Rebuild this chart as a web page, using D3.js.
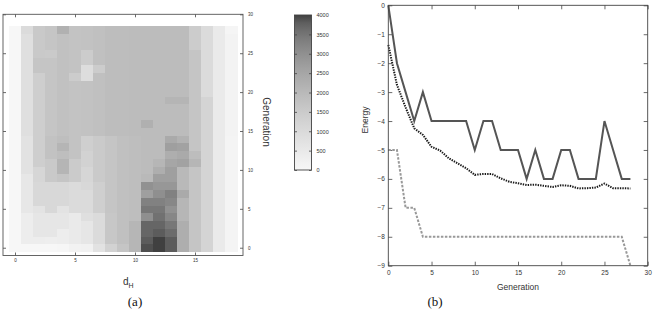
<!DOCTYPE html>
<html><head><meta charset="utf-8">
<script src="https://cdn.jsdelivr.net/npm/d3@7"></script>
<style>
body{margin:0;background:#fff}
svg{display:block;font-family:"Liberation Sans",Arial,sans-serif}
</style>
</head><body>
<svg id="c" width="658" height="312"></svg>
<script>
// ---------- data ----------
const dH = [0,1,2,3,4,5,6,7,8,9,10,11,12,13,14,15,16,17,18];
const generations = [0,1,2,3,4,5,6,7,8,9,10,11,12,13,14,15,16,17,18,19,20,21,22,23,24,25,26,27,28];
// heat counts: one row per generation (0..28), one value per d_H (0..18)
const heatRows = [
 [0,0,0,0,60,180,240,740,1250,1650,2090,3940,4000,3830,2290,1670,1210,490,120],
 [0,370,370,340,370,490,620,980,1600,1800,2090,3830,4000,3830,2290,1670,1210,490,120],
 [0,370,620,620,370,490,620,980,1600,1800,2090,3710,3830,3620,2290,1670,1210,490,120],
 [0,370,620,620,620,490,620,980,1600,1800,2090,3710,3710,3460,2290,1670,1210,490,120],
 [0,370,620,620,620,490,860,980,1600,1800,1850,3010,3560,3170,2090,1670,1210,490,120],
 [0,560,720,1080,720,960,960,1350,1650,1800,1850,3460,3460,2970,2090,1670,1210,490,120],
 [0,560,1080,1080,1080,960,960,1350,1650,1800,1850,3280,3280,3170,2090,1670,1210,490,120],
 [0,560,1080,1080,1080,960,960,1350,1650,1800,1850,2670,3010,3280,2390,1670,1210,490,120],
 [0,560,1080,1080,1080,960,1080,1350,1650,1800,1850,2970,2850,2850,1990,1670,1210,490,120],
 [0,560,1130,1550,1650,1470,1130,1500,1650,1800,1850,2000,2670,2670,1990,1670,1210,490,120],
 [0,740,1130,1550,2100,1470,1130,1500,1650,1800,1850,1900,2290,2650,1990,1670,1210,490,120],
 [0,740,1380,1550,2100,1470,1250,1500,1650,1800,1850,1900,2090,2480,2600,2090,1210,490,120],
 [0,740,1380,1750,1850,1700,1250,1500,1650,1800,1850,1900,1900,2290,2390,1880,1210,490,120],
 [0,740,1380,1750,2100,1700,1360,1500,1650,1800,1850,1900,1900,2670,2580,1670,1210,490,120],
 [0,740,1380,1750,1850,1700,1360,1500,1650,1800,1850,1900,1900,2390,2190,1670,1210,490,120],
 [0,860,1380,1670,1780,1700,1750,1800,1880,1880,1900,1900,1900,1900,1900,1670,1210,490,150],
 [0,860,1380,1670,1780,1700,1750,1800,1880,1880,1900,2250,1900,1900,1900,1670,1210,490,150],
 [0,860,1380,1670,1780,1700,1750,1800,1880,1880,1900,1900,1900,1900,1900,1670,1210,490,150],
 [0,860,1380,1670,1780,1700,1750,1800,1880,1880,1900,1900,1900,1900,1900,1670,1210,490,150],
 [0,860,1380,1670,1780,1700,1750,1800,1880,1880,1900,1900,1900,2100,2100,1670,1210,490,150],
 [0,860,1380,1670,1780,1700,1750,1800,1880,1880,1900,1900,1900,1900,1900,1670,980,490,150],
 [0,860,1380,1670,1780,1700,1750,1800,1880,1880,1900,1900,1900,1900,1900,1670,980,490,150],
 [0,860,1380,1670,1780,1450,900,1800,1880,1880,1900,1900,1900,1900,1900,1670,980,490,150],
 [0,860,1670,1670,1780,1700,900,1450,1880,1880,1900,1900,1900,1900,1900,1670,980,490,150],
 [0,860,1670,1670,1780,1700,1450,1800,1880,1880,1900,1900,1900,1900,1900,1670,980,490,150],
 [0,860,1550,1500,1780,1700,1450,1800,1880,1880,1900,1900,1900,1900,1900,1670,980,490,150],
 [0,860,1550,1670,1780,1700,1750,1800,1880,1880,1900,1900,1900,1900,1900,1440,980,490,150],
 [0,860,1550,1670,1780,1700,1750,1800,1880,1880,1900,1900,1900,1900,1900,1440,980,490,150],
 [0,980,1550,1670,2200,1700,1750,1800,1880,1880,1900,1900,1900,1900,1900,1440,980,490,80]
];
const heatXTicks = [0,5,10,15];
const heatYTicks = [0,5,10,15,20,25,30];
const colorTicks = [0,500,1000,1500,2000,2500,3000,3500,4000];

const energyGen = [0,1,2,3,4,5,6,7,8,9,10,11,12,13,14,15,16,17,18,19,20,21,22,23,24,25,26,27,28];
const bestEnergy = [0,-2,-3,-4,-3,-4,-4,-4,-4,-4,-5,-4,-4,-5,-5,-5,-6,-5,-6,-6,-5,-5,-6,-6,-6,-4,-5,-6,-6];
const meanEnergy = [-1.37,-2.75,-3.53,-4.25,-4.48,-4.89,-5.02,-5.29,-5.46,-5.63,-5.86,-5.83,-5.83,-5.98,-6.1,-6.15,-6.21,-6.2,-6.24,-6.28,-6.22,-6.24,-6.33,-6.32,-6.3,-6.16,-6.32,-6.32,-6.33];
const minEnergy = [-5,-5,-7,-7,-8,-8,-8,-8,-8,-8,-8,-8,-8,-8,-8,-8,-8,-8,-8,-8,-8,-8,-8,-8,-8,-8,-8,-8,-9];
const energyXTicks = [0,5,10,15,20,25,30];
const energyYTicks = [0,-1,-2,-3,-4,-5,-6,-7,-8,-9];

// ---------- drawing ----------
const svg = d3.select("#c");
const defs = svg.append("defs");
const ink = "#333";

// colour: gnuplot-like gray palette (gamma), slightly washed out
const color = d3.scaleSequential(t => {
  const g = Math.round(255 * (0.25 + 0.72 * Math.pow(1 - Math.max(0, Math.min(1, t)), 0.6)));
  return d3.rgb(g, g, g).formatHex();
}).domain([0, 4000]);

// ===== panel (a) =====
const hx = d3.scaleLinear().domain([-1, 19]).range([3, 243]);
const hy = d3.scaleLinear().domain([-1, 30]).range([255.5, 14.3]);

defs.append("filter").attr("id", "soft").attr("x", "-5%").attr("y", "-5%").attr("width", "110%").attr("height", "110%")
  .append("feGaussianBlur").attr("stdDeviation", 0.7);
defs.append("clipPath").attr("id", "clipA").append("rect")
  .attr("x", hx(-1)).attr("y", hy(30)).attr("width", hx(19) - hx(-1)).attr("height", hy(-1) - hy(30));

const cells = [];
heatRows.forEach((row, gi) => row.forEach((v, di) => cells.push({g: generations[gi], d: dH[di], v})));
const cw = hx(1) - hx(0), ch = hy(0) - hy(1);
svg.append("g").attr("clip-path", "url(#clipA)").append("g").attr("filter", "url(#soft)")
  .selectAll("rect").data(cells).join("rect")
  .attr("shape-rendering", "crispEdges")
  .attr("x", d => hx(d.d - 0.5)).attr("y", d => hy(d.g + 0.5))
  .attr("width", cw + 0.6).attr("height", ch + 0.6)
  .attr("fill", d => color(d.v));

function styleAxis(g, fs) {
  g.select(".domain").remove();
  g.selectAll("line").attr("stroke", "#444").attr("stroke-width", 0.8);
  g.selectAll("text").attr("fill", ink).attr("font-size", fs).attr("font-family", "Liberation Sans, Arial, sans-serif");
}
svg.append("g").attr("transform", `translate(0,${hy(-1)})`)
  .call(d3.axisBottom(hx).tickValues(heatXTicks).tickSize(-3).tickPadding(3.5)).call(g => styleAxis(g, 4.5));
svg.append("g").attr("transform", `translate(0,${hy(30)})`)
  .call(d3.axisTop(hx).tickValues(heatXTicks).tickSize(-3).tickFormat("")).call(g => styleAxis(g, 4.5));
svg.append("g").attr("transform", `translate(${hx(-1)},0)`)
  .call(d3.axisLeft(hy).tickValues(heatYTicks).tickSize(-3).tickFormat("")).call(g => styleAxis(g, 4.5));
svg.append("g").attr("transform", `translate(${hx(19)},0)`)
  .call(d3.axisRight(hy).tickValues(heatYTicks).tickSize(-3).tickPadding(5)).call(g => styleAxis(g, 4.5));
svg.append("rect").attr("x", hx(-1)).attr("y", hy(30)).attr("width", hx(19) - hx(-1)).attr("height", hy(-1) - hy(30))
  .attr("fill", "none").attr("stroke", "#555").attr("stroke-width", 0.9);

const dl = svg.append("text").attr("x", 123).attr("y", 285).attr("fill", ink).attr("font-size", 10);
dl.append("tspan").text("d");
dl.append("tspan").attr("font-size", 7).attr("dy", 2.5).text("H");
svg.append("text").attr("transform", "translate(263,122) rotate(90)").attr("text-anchor", "middle")
  .attr("fill", ink).attr("font-size", 10).text("Generation");

// colour bar
const cb = d3.scaleLinear().domain([0, 4000]).range([170, 15]);
const grad = defs.append("linearGradient").attr("id", "cbg").attr("x1", 0).attr("y1", 1).attr("x2", 0).attr("y2", 0);
d3.range(0, 1.0001, 0.05).forEach(t => grad.append("stop").attr("offset", t).attr("stop-color", color(t * 4000)));
svg.append("rect").attr("x", 294.5).attr("y", cb(4000)).attr("width", 17).attr("height", cb(0) - cb(4000))
  .attr("fill", "url(#cbg)");
svg.append("g").attr("transform", "translate(294.5,0)")
  .call(d3.axisLeft(cb).tickValues(colorTicks).tickSize(-2.5).tickFormat("")).call(g => styleAxis(g, 5.5));
svg.append("g").attr("transform", "translate(311.5,0)")
  .call(d3.axisRight(cb).tickValues(colorTicks).tickSize(-2.5).tickPadding(5).tickFormat(d3.format("d")))
  .call(g => styleAxis(g, 5.5));
svg.append("rect").attr("x", 294.5).attr("y", cb(4000)).attr("width", 17).attr("height", cb(0) - cb(4000))
  .attr("fill", "none").attr("stroke", "#444").attr("stroke-width", 0.9);

svg.append("text").attr("x", 135).attr("y", 306).attr("text-anchor", "middle")
  .attr("font-family", "Liberation Serif, Times New Roman, serif").attr("font-size", 13).attr("fill", "#111").text("(a)");

// ===== panel (b) =====
const ex = d3.scaleLinear().domain([0, 30]).range([388.3, 647.7]);
const ey = d3.scaleLinear().domain([-9, 0]).range([265.7, 5.3]);

svg.append("g").attr("transform", `translate(0,${ey(-9)})`)
  .call(d3.axisBottom(ex).tickValues(energyXTicks).tickSize(-4).tickPadding(5)).call(g => styleAxis(g, 6.5));
svg.append("g").attr("transform", `translate(0,${ey(0)})`)
  .call(d3.axisTop(ex).tickValues(energyXTicks).tickSize(-4).tickFormat("")).call(g => styleAxis(g, 6.5));
svg.append("g").attr("transform", `translate(${ex(0)},0)`)
  .call(d3.axisLeft(ey).tickValues(energyYTicks).tickSize(-4).tickPadding(3.5)).call(g => styleAxis(g, 6.5));
svg.append("g").attr("transform", `translate(${ex(30)},0)`)
  .call(d3.axisRight(ey).tickValues(energyYTicks).tickSize(-4).tickFormat("")).call(g => styleAxis(g, 6.5));

const line = arr => d3.line().x((d, i) => ex(energyGen[i])).y(d => ey(d))(arr);
svg.append("path").attr("d", line(minEnergy)).attr("fill", "none").attr("stroke", "#999")
  .attr("stroke-width", 2).attr("stroke-dasharray", "2.5,1.5");
svg.append("path").attr("d", line(meanEnergy)).attr("fill", "none").attr("stroke", "#1a1a1a")
  .attr("stroke-width", 2).attr("stroke-dasharray", "1.4,1.1");
svg.append("path").attr("d", line(bestEnergy)).attr("fill", "none").attr("stroke", "#555")
  .attr("stroke-width", 2).attr("stroke-linejoin", "miter");

svg.append("rect").attr("x", ex(0)).attr("y", ey(0)).attr("width", ex(30) - ex(0)).attr("height", ey(-9) - ey(0))
  .attr("fill", "none").attr("stroke", "#444").attr("stroke-width", 0.9);

svg.append("text").attr("x", 518).attr("y", 290).attr("text-anchor", "middle")
  .attr("fill", ink).attr("font-size", 8.5).text("Generation");
svg.append("text").attr("transform", "translate(368,120) rotate(-90)").attr("text-anchor", "middle")
  .attr("fill", ink).attr("font-size", 8.5).text("Energy");

svg.append("text").attr("x", 435).attr("y", 306).attr("text-anchor", "middle")
  .attr("font-family", "Liberation Serif, Times New Roman, serif").attr("font-size", 13).attr("fill", "#111").text("(b)");
</script>
</body></html>
